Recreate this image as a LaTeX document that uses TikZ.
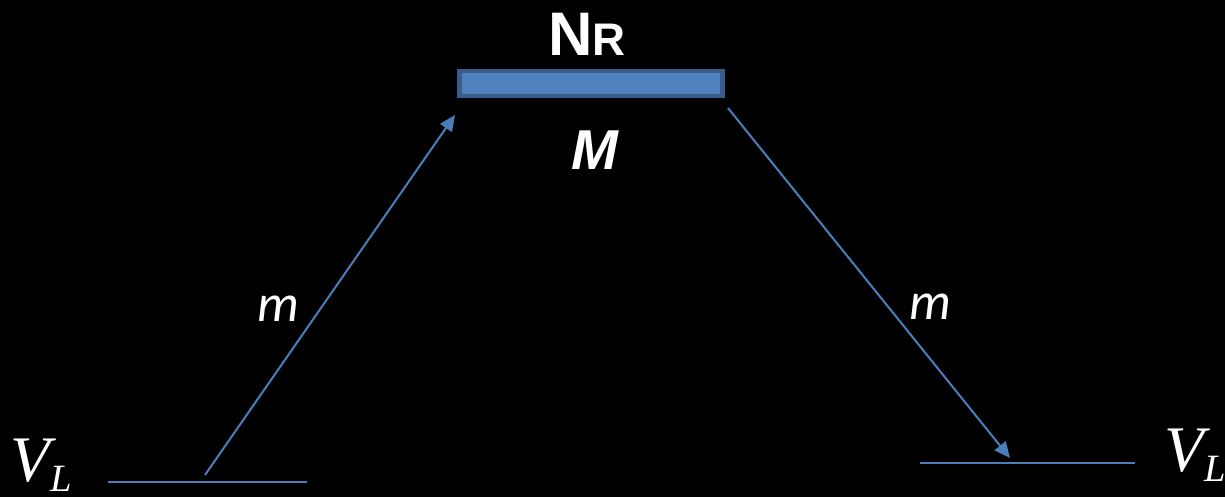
\documentclass[tikz,border=0pt]{standalone}
\usepackage{fontspec}
\setsansfont{Liberation Sans}
\newfontfamily\labelfont{Carlito}
\newfontfamily\varfont{Liberation Serif}
\usepackage{tikz}
\usetikzlibrary{positioning}
\usetikzlibrary{arrows.meta}
\usetikzlibrary{calc}
\definecolor{barblue}{HTML}{4F81BD}
\definecolor{baredge}{HTML}{385D8A}
\definecolor{lineblue}{HTML}{4A7EBB}
\newcommand{\VLsym}{{\fontsize{37}{40}\varfont\itshape V\raisebox{-6pt}{\fontsize{22}{24}\selectfont L}}}
\tikzset{
  wlabel/.style={text=white,inner sep=0pt},
  levelline/.style={draw=lineblue,line width=1.15pt},
  transarrow/.style={draw=lineblue,line width=1.15pt,-{Triangle[length=9pt,width=8pt]}},
}

\begin{document}
\begin{tikzpicture}[x=0.02cm,y=-0.02cm]
            \useasboundingbox[fill=black] (0,0) rectangle (1225,497) ;
            % resonance level
            \node at (591,83.5) [draw=baredge,fill=barblue,line width=2.4pt,
                  minimum width=5.26cm,minimum height=0.5cm,inner sep=0pt] (nbar) {} ;
            \node at (587,55) [wlabel,anchor=base] (nNR)
                  {\fontsize{35}{35}\sffamily\bfseries N\fontsize{26}{26}\selectfont R} ;
            \node at (595,169) [wlabel,anchor=base] (nM)
                  {\fontsize{32}{32}\sffamily\bfseries\itshape M} ;
            % left level
            \coordinate (nLa) at (108,482) ;
            \coordinate (nLb) at (307,482) ;
            \draw [levelline] (nLa) -- (nLb) ;
            \node at (10,481) [wlabel,anchor=base west] (nVL1) {\VLsym} ;
            % right level
            \coordinate (nRa) at (920,463) ;
            \coordinate (nRb) at (1135,463) ;
            \draw [levelline] (nRa) -- (nRb) ;
            \node at (1164,471) [wlabel,anchor=base west] (nVL2) {\VLsym} ;
            % arrow up to the resonance
            \coordinate (nup0) at (205,475) ;
            \coordinate (nup1) at (455,115) ;
            \draw [transarrow] (nup0) -- (nup1) ;
            \node at (278,321) [wlabel,anchor=base] (nm1) {\fontsize{30}{30}\labelfont\itshape m} ;
            % arrow down from the resonance
            \coordinate (ndn0) at (728,108) ;
            \coordinate (ndn1) at (1010,458) ;
            \draw [transarrow] (ndn0) -- (ndn1) ;
            \node at (930,319) [wlabel,anchor=base] (nm2) {\fontsize{30}{30}\labelfont\itshape m} ;
\end{tikzpicture}
\end{document}
